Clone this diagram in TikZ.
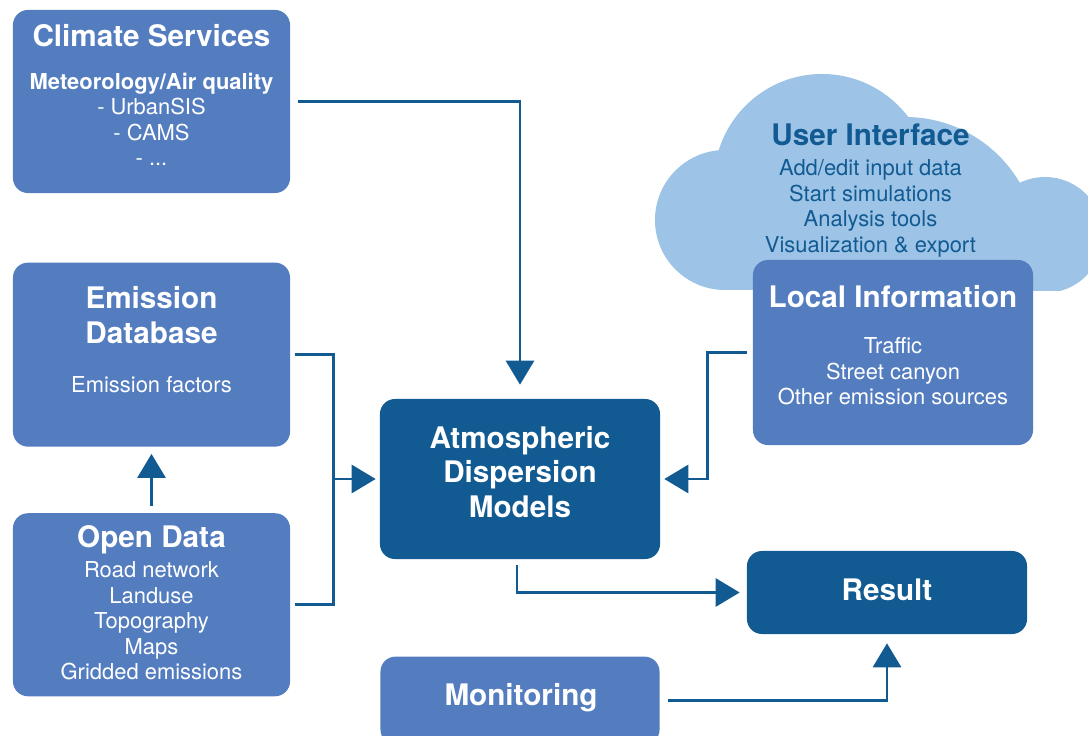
\documentclass[tikz,border=0pt]{standalone}
\usepackage{fontspec}
\setmainfont{TeX Gyre Heros}
\usepackage{xcolor}
\definecolor{boxblue}{RGB}{84,125,192}
\definecolor{darkblue}{RGB}{17,90,146}
\definecolor{cloudblue}{RGB}{157,196,230}
\usepackage{tikz}
\usetikzlibrary{positioning}
\usetikzlibrary{arrows.meta}
\tikzset{box/.style={rectangle,rounded corners=0.375cm,fill=boxblue,minimum width=6.925cm,minimum height=4.575cm,inner sep=0pt},
	dark box/.style={box,fill=darkblue,minimum width=7cm},
	title/.style={text=white,font=\fontsize{21.1}{24.5}\selectfont\bfseries,align=center,inner sep=0pt},
	body/.style={text=white,font=\fontsize{15.6}{18.1}\selectfont,align=center,inner sep=0pt},
	flow/.style={draw=darkblue,line width=2.1pt,-{Triangle[length=0.6cm,width=0.7cm]}},}

\begin{document}
\begin{tikzpicture}[x=0.025cm, y=-0.025cm, node distance=1cm]
	\useasboundingbox (0,0) rectangle (1088,736);
	% cloud behind the local information
	\begin{scope}
		\clip (640,50) rectangle (1088,290);
		\fill[cloudblue] (725,220) circle (1.75cm);
		\fill[cloudblue] (822,182) circle (2.7cm);
		\fill[cloudblue] (905,250) circle (3.325cm);
		\fill[cloudblue] (1045,235) circle (1.45cm);
		\fill[cloudblue] (725,220) rectangle (1045,290);
	\end{scope}

	\node[box] (cs) at (151.5,101.5) {};
	\node[box, minimum height=4.6cm] (db) [below = 1.725cm of cs] {};
	\node[box] (od) [below = 1.65cm of db] {};
	\node[dark box, minimum height=4cm] (adm) at (520,479) {};
	\node[box, minimum width=6.975cm, minimum height=2.2cm] (mon) [below = 2.425cm of adm] {};
	\node[box, minimum width=7cm, minimum height=4.625cm] (li) at (893,352.5) {};
	\node[dark box, minimum height=2.075cm] (res) at (887,592.5) {};

	\node[title, anchor=base] (cs-t) at (151.5,47) {Climate Services};
	\node[body, anchor=north] (cs-b) at (151.5,72.5) {\textbf{Meteorology/Air quality}\\- UrbanSIS\\- CAMS\\- ...};
	\node[title, anchor=north] (db-t) at (151.5,286.5) {Emission\\Database};
	\node[body, anchor=base] (db-b) at (151.5,392) {Emission factors};
	\node[title, anchor=base] (od-t) at (151.5,547) {Open Data};
	\node[body, anchor=north] (od-b) at (151.5,561.5) {Road network\\Landuse\\Topography\\Maps\\Gridded emissions};
	\node[title, anchor=north] (adm-t) at (520,426) {Atmospheric\\Dispersion\\Models};
	\node[title, text=darkblue, anchor=base] (ui-t) at (870.5,146) {User Interface};
	\node[body, text=darkblue, anchor=north] (ui-b) at (870.5,159.5) {Add/edit input data\\Start simulations\\Analysis tools\\Visualization \& export};
	\node[title, anchor=base] (li-t) at (893,307) {Local Information};
	\node[body, anchor=north] (li-b) at (893,337.5) {Traffic\\Street canyon\\Other emission sources};
	\node[title, anchor=base] (res-t) at (887,600) {Result};
	\node[title, anchor=base] (mon-t) at (521,705) {Monitoring};

	\coordinate (brk) at ([xshift=1.075cm]db.east);
	\draw[flow] ([xshift=0.2cm]cs.east) -| ([yshift=0.35cm]adm.north);
	\draw[draw=darkblue, line width=2.1pt] ([xshift=0.125cm]db.east) -- (brk) |- ([xshift=0.125cm]od.east);
	\draw[flow] (brk |- adm.west) -- ([xshift=-0.1cm]adm.west);
	\draw[flow] ([yshift=0.175cm]od.north) -- ([yshift=-0.175cm]db.south);
	\draw[flow] ([xshift=-0.15cm]li.west) -- ++(-0.975cm,0) |- ([xshift=0.1cm]adm.east);
	\draw[flow] ([xshift=-0.075cm, yshift=-0.15cm]adm.south) |- ([xshift=-0.175cm]res.west);
	\draw[flow] ([xshift=0.2cm]mon.east) -| ([yshift=-0.225cm]res.south);
\end{tikzpicture}
\end{document}
